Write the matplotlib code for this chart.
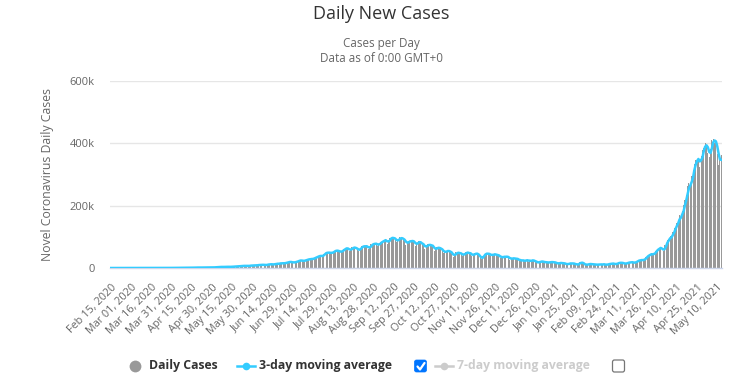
import matplotlib.pyplot as plt
import matplotlib.patches as mpatches
import numpy as np
import pandas as pd

# daily new cases, Feb 15 2020 .. May 13 2021 (one value per day)
feb_2020 = [0] * 15
mar_2020 = [0, 2, 1, 22, 2, 1, 3, 5, 9, 15, 8, 10, 10, 1, 26, 11, 34, 10, 53, 78,
            62, 94, 74, 86, 73, 153, 136, 120, 187, 309, 424]
apr_2020 = [486, 560, 579, 609, 484, 573, 565, 813, 871, 854, 758, 1243, 1031, 886, 1061,
            922, 1371, 1580, 1239, 1537, 1292, 1667, 1408, 1835, 1607, 1561, 1873, 1738, 1801, 1718]
may_2020 = [1993, 2293, 2644, 2952, 3656, 2971, 3602, 3344, 3339, 4311, 3592, 3562, 3726, 3991,
            3808, 4794, 5050, 4628, 6154, 5720, 6023, 6536, 6667, 7111, 6414, 5843, 7293, 7300,
            8105, 8380, 8789]
jun_2020 = [7723, 8821, 9633, 9889, 9471, 10438, 10864, 8442, 9985, 10956, 11929, 11587, 12375,
            11502, 10667, 14516, 12881, 13586, 14721, 15915, 14831, 14933, 15968, 16922, 18552,
            19906, 19459, 18522, 16868, 18641]
jul_2020 = [19428, 20903, 22771, 24850, 24248, 22252, 22752, 24879, 26506, 27114, 28637, 29108,
            28701, 29429, 32607, 34956, 34884, 38902, 40425, 37148, 37724, 45720, 48916, 49310,
            48661, 49931, 47703, 48513, 52123, 55079, 57118]
aug_2020 = [54735, 52972, 52050, 52509, 56282, 62538, 61537, 64399, 62064, 53601, 60963, 66999,
            64553, 65002, 63490, 57981, 55079, 64531, 69652, 68898, 69878, 70488, 69239, 61408,
            67151, 75760, 77266, 76472, 78761, 78512, 69921]
sep_2020 = [78357, 83883, 83341, 86432, 90632, 90802, 75809, 89706, 95735, 96551, 97570, 94372,
            92071, 83809, 90123, 97894, 96424, 93337, 92605, 86961, 75083, 83347, 86508, 86052,
            85362, 88600, 82170, 70589, 80472, 86821]
oct_2020 = [81484, 79476, 75829, 74442, 61267, 72049, 78524, 70496, 73272, 74383, 66732, 55342,
            63509, 67708, 63371, 62212, 61871, 55722, 46790, 54044, 55839, 53370, 54366, 50129,
            45148, 36469, 43893, 49881, 48648, 48268, 46963]
nov_2020 = [45231, 38310, 46253, 50210, 47638, 50356, 45674, 45903, 38073, 44281, 47905, 44879,
            44878, 41100, 30548, 29164, 38617, 45576, 45882, 46232, 45209, 44059, 37975, 44376,
            44489, 43082, 41322, 41810, 38772, 31118]
dec_2020 = [36604, 35551, 35668, 36595, 36652, 32981, 26567, 32080, 31521, 29398, 30006, 30254,
            27071, 22065, 26382, 24010, 22890, 22889, 25152, 26624, 19556, 24548, 23950, 24712,
            23067, 18732, 18732, 16432, 20550, 21822, 20035]
jan_2021 = [19078, 18177, 18177, 16505, 18088, 20346, 18139, 18222, 18645, 16311, 12584, 15968,
            16946, 15590, 15158, 15144, 13788, 10050, 13823, 15223, 14545, 14256, 14849, 13203,
            9102, 12689, 11666, 18855, 18855, 13083, 13052]
feb_2021 = [8635, 11039, 12899, 12408, 12923, 11713, 12059, 11831, 9110, 11067, 12923, 9309,
            12143, 12194, 11649, 9121, 11610, 12881, 13193, 13993, 14264, 14199, 10584, 13742,
            16738, 16577, 16488, 16752]
mar_2021 = [15510, 12286, 14989, 17407, 16838, 18327, 18711, 18599, 15388, 17921, 22854, 23285,
            24882, 25320, 26291, 24492, 28903, 35871, 39726, 40953, 43846, 46951, 40715, 47262,
            53476, 59118, 62258, 62714, 68020, 56211, 53480]
apr_2021 = [72330, 81466, 89129, 93249, 103558, 96982, 115736, 126789, 131968, 145384, 152879,
            168912, 161736, 184372, 200739, 217353, 234692, 261500, 273810, 259170, 295041,
            314835, 332730, 346786, 349691, 352991, 323144, 360960, 379257, 386452]
may_2021 = [401993, 392488, 368147, 357229, 382315, 412262, 414188, 401078, 403738, 366161,
            329942, 348421, 362727]

daily_cases = (feb_2020 + mar_2020 + apr_2020 + may_2020 + jun_2020 + jul_2020 + aug_2020
               + sep_2020 + oct_2020 + nov_2020 + dec_2020 + jan_2021 + feb_2021 + mar_2021
               + apr_2021 + may_2021)
dates = pd.date_range('2020-02-15', '2021-05-13', freq='D')
assert len(dates) == len(daily_cases)

yticks = [0, 200000, 400000, 600000]
ytick_labels = ['0', '200k', '400k', '600k']

BAR = '#999999'
LINE = '#33ccff'
FONT = 'Open Sans'

plt.rcParams['font.family'] = FONT

ma3 = pd.Series(daily_cases).rolling(3, min_periods=1).mean()
x = np.arange(len(daily_cases))

W, H = 741, 381
fig = plt.figure(figsize=(W / 100, H / 100), dpi=100)
ax = fig.add_axes([110 / W, 1 - 268 / H, 612 / W, 187 / H])

ax.bar(x, daily_cases, width=0.72, color=BAR, linewidth=0, zorder=2)
ax.plot(x, ma3, color=LINE, lw=1.8, zorder=3, solid_joinstyle='round')

ax.set_xlim(-0.5, len(x) - 0.5)
ax.set_ylim(0, 600000)
ax.set_yticks(yticks)
ax.set_yticklabels(ytick_labels)
ax.grid(axis='y', color='#e6e6e6', lw=1, zorder=0)
for s in ['top', 'right', 'left']:
    ax.spines[s].set_visible(False)
ax.spines['bottom'].set_color('#ccd6eb')
ax.spines['bottom'].set_linewidth(1)
ax.tick_params(axis='y', length=0, pad=11, labelsize=8, labelcolor='#666666')
ax.tick_params(axis='x', length=0, pad=10, labelsize=7.8, labelcolor='#666666')

ticks = x[::15]
ax.set_xticks(ticks)
ax.set_xticklabels([dates[i].strftime('%b %d, %Y') for i in ticks],
                   rotation=45, ha='right', va='top', rotation_mode='anchor')
ax.set_ylabel('Novel Coronavirus Daily Cases', fontsize=8.8, color='#666666', labelpad=11)

# overlay in pixel coordinates for titles and legend
ov = fig.add_axes([0, 0, 1, 1], zorder=5)
ov.set_xlim(0, W)
ov.set_ylim(H, 0)
ov.axis('off')
ov.patch.set_alpha(0)

ov.text(381, 14, 'Daily New Cases', ha='center', va='center', fontsize=13, color='#333333')
ov.text(381, 43, 'Cases per Day', ha='center', va='center', fontsize=8.4, color='#666666')
ov.text(381, 58, 'Data as of 0:00 GMT+0', ha='center', va='center', fontsize=8.4, color='#666666')

ly = 366
fs_leg = 8.8
ov.plot([135], [ly], 'o', color=BAR, ms=8.5, mew=0)
ov.text(149, ly, 'Daily Cases', va='center', fontsize=fs_leg, fontweight='bold', color='#333333')
ov.plot([237, 255], [ly, ly], color=LINE, lw=1.8)
ov.plot([246], [ly], 'o', color=LINE, ms=5.5, mew=0)
ov.text(259, ly, '3-day moving average', va='center', fontsize=fs_leg, fontweight='bold', color='#333333')

ov.add_patch(mpatches.FancyBboxPatch((414.5, 360), 12, 12, boxstyle='round,pad=0,rounding_size=2',
                                     fc='#0075ff', ec='#0075ff', lw=0.5))
ov.plot([417.5, 420, 424.5], [366.5, 369.5, 363], color='white', lw=1.6,
        solid_capstyle='round', solid_joinstyle='round')

ov.plot([435, 453], [ly, ly], color='#cccccc', lw=1.8)
ov.plot([444], [ly], 'o', color='#cccccc', ms=5.5, mew=0)
ov.text(457, ly, '7-day moving average', va='center', fontsize=fs_leg, fontweight='bold', color='#cccccc')

ov.add_patch(mpatches.FancyBboxPatch((612.5, 360), 12, 12, boxstyle='round,pad=0,rounding_size=2',
                                     fc='white', ec='#767676', lw=0.9))

fig.savefig('out.png', dpi=100)
